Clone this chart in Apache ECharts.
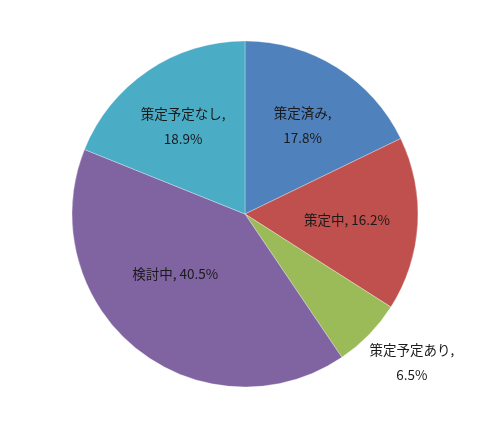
<!DOCTYPE html>
<html>
<head>
<meta charset="utf-8">
<script src="https://cdn.jsdelivr.net/npm/echarts@6/dist/echarts.min.js"></script>
<style>
html,body{margin:0;padding:0;background:#fff;}
#chart{width:490px;height:431px;}
</style>
</head>
<body>
<div id="chart"></div>
<script>
let names=["策定済み","策定中","策定予定あり","検討中","策定予定なし"]
let values=[17.8,16.2,6.5,40.5,18.9]
let colors=["#4F81BD","#C0504D","#9BBB59","#8064A2","#4BACC6"]
// 各ラベルの置き場所（半径に対する倍率と角度のずれ）
let labelR=[0.61,0.59,1.29,0.53,0.62]
let labelShift=[1,0,-2.6,10.7,-1.2]
let labelBreak=[true,false,true,false,true]

let cx=245,cy=214,R=173
let total=values.reduce((a,b)=>a+b,0)
let mids=[]
let acc=0
for(let i=0;i<values.length;i++){
	mids.push((acc+values[i]/2)/total*360)
	acc+=values[i]
}

let pieData=names.map((n,i)=>({
	name:n,
	value:values[i],
	itemStyle:{color:colors[i]}
}))

let myChart=echarts.init(document.getElementById("chart"))
let option={
	animation:false,
	series:[{
		type:"pie",
		center:[cx,cy],
		radius:[0,R],
		startAngle:90,
		clockwise:true,
		data:pieData,
		itemStyle:{borderColor:"rgba(255,255,255,0.5)",borderWidth:0.6},
		emphasis:{disabled:true},
		labelLine:{show:false},
		label:{
			show:true,
			position:"inside",
			fontFamily:"Noto Sans CJK JP",
			fontSize:13.5,
			lineHeight:25,
			color:"#1a1a1a",
			align:"center",
			formatter:function(p){
				let sep=labelBreak[p.dataIndex]?",\n":", "
				return p.name+sep+p.value.toFixed(1)+"%"
			}
		},
		labelLayout:function(p){
			let i=p.dataIndex
			let a=(mids[i]+labelShift[i])*Math.PI/180
			let r=R*labelR[i]
			return {
				x:cx+r*Math.sin(a),
				y:cy-r*Math.cos(a),
				align:"center",
				verticalAlign:"middle"
			}
		}
	}]
}
myChart.setOption(option)
</script>
</body>
</html>
